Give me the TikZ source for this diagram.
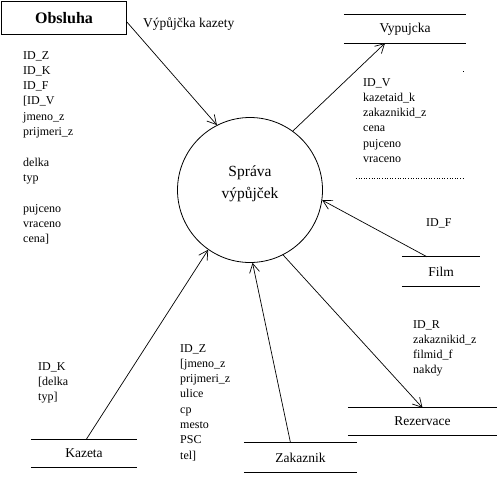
\documentclass[tikz,border=0pt]{standalone}
\usepackage{fontspec}
\setmainfont{Liberation Serif}
\usepackage{tikz}
\usetikzlibrary{positioning,arrows.meta}

\begin{document}
\begin{tikzpicture}[x=1pt, y=-1pt,
  ent/.style={draw, line width=0.8pt, inner sep=0pt, minimum width=125pt, minimum height=33pt, font=\fontsize{16}{19}\selectfont\bfseries},
  proc/.style={draw, circle, line width=0.8pt, inner sep=0pt, minimum size=145pt},
  store/.style={inner sep=0pt, font=\fontsize{13.5}{16}\selectfont},
  attr/.style={inner sep=0pt, anchor=north west, align=left, font=\fontsize{12}{15.3}\selectfont},
  flow/.style={inner sep=0pt, anchor=base west, font=\fontsize{13.5}{16}\selectfont},
  arr/.style={-{Straight Barb[length=9pt, width=10pt]}, line width=0.7pt},
  rule/.style={line width=0.8pt}]
\useasboundingbox (0,0) rectangle (497,477);
% entity and process
\node[ent] (obs) at (64,18) {Obsluha};
\node[proc] (p) at (250,190) {};
\node[font=\fontsize{15.5}{22}\selectfont, align=center, inner sep=0pt, yshift=6pt] (pt) at (p.center) {Spr\'ava\\v\'yp\r{u}j\v{c}ek};
% data stores
\node[store, minimum width=122pt, minimum height=28pt] (vyp) at (405,29) {Vypujcka};
\node[store, minimum width=78pt, minimum height=29pt] (film) at (441,271.5) {Film};
\node[store, minimum width=149pt, minimum height=27pt] (rez) at (422.5,421.5) {Rezervace};
\node[store, minimum width=113pt, minimum height=29pt] (zak) at (300.5,457.5) {Zakaznik};
\node[store, minimum width=106pt, minimum height=27pt] (kaz) at (84,453.5) {Kazeta};
\foreach \s in {vyp,film,rez,zak,kaz}
  \draw[rule] (\s.north west) -- (\s.north east) (\s.south west) -- (\s.south east);
% attribute lists
\node[flow] (lobs) at (143,27) {V\'yp\r{u}j\v{c}ka kazety};
\node[attr] (aobs) at (23,51) {ID\_Z\\ID\_K\\ID\_F\\{[}ID\_V\\jmeno\_z\\prijmeri\_z\\[15.3pt]delka\\typ\\[15.3pt]pujceno\\vraceno\\cena]};
\node[attr] (avyp) at (363,78) {ID\_V\\kazetaid\_k\\zakaznikid\_z\\cena\\pujceno\\vraceno};
\node[attr, anchor=base west] (afilm) at (426,226) {ID\_F};
\node[attr] (arez) at (413,320) {ID\_R\\zakaznikid\_z\\filmid\_f\\nakdy};
\node[attr] (azak) at (180,344) {ID\_Z\\{[}jmeno\_z\\prijmeri\_z\\ulice\\cp\\mesto\\PSC\\tel]};
\node[attr] (akaz) at (38,362) {ID\_K\\{[}delka\\typ]};
\draw[line width=0.6pt, dotted] (356,178) coordinate (d1) -- (463,178) coordinate (d2);
\fill (462.5,70.5) rectangle (463.5,71.5);
% flows
\draw[arr] ([yshift=-4pt]obs.east) -- (p.117);
\draw[arr] (p.54) -- ([xshift=-20pt]vyp.south);
\draw[arr] ([xshift=-14pt]film.north) -- (p.-8);
\draw[arr] (p.-63) -- (rez.north);
\draw[arr] ([xshift=-10pt]zak.north) -- (p.-88);
\draw[arr] ([xshift=2pt]kaz.north) -- (p.-125);
\end{tikzpicture}
\end{document}
